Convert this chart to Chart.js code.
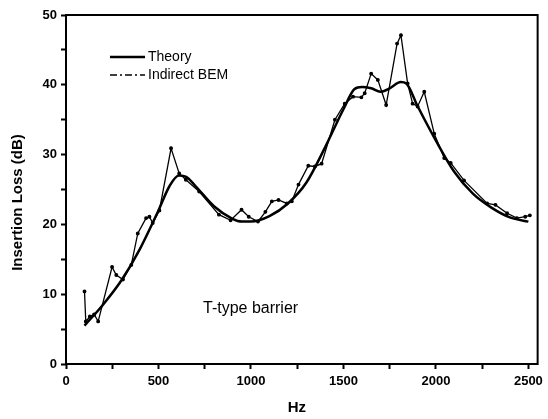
<!DOCTYPE html>
<html>
<head>
<meta charset="utf-8">
<script src="https://cdn.jsdelivr.net/npm/chart.js@4"></script>
<style>
  html, body { margin: 0; padding: 0; background: #fff; }
  #wrap { width: 548px; height: 419px; }
</style>
</head>
<body>
<div id="wrap"><canvas id="c"></canvas></div>
<script>
// Theory curve (Hz, dB)
const theoryHz = [100, 200, 300, 400, 500, 560, 610, 650, 700, 800, 900, 950, 1000, 1100, 1200, 1300, 1400, 1500, 1560, 1600, 1650, 1700, 1750, 1810, 1840, 1900, 2000, 2100, 2200, 2300, 2400, 2500]
const theoryDb = [5.5, 8.5, 12, 16.5, 22, 25.5, 27, 26.8, 25.5, 22.6, 20.8, 20.4, 20.4, 21.2, 23, 26, 31, 36.5, 39.4, 39.7, 39.5, 39.0, 39.5, 40.4, 40.2, 37, 32, 27.5, 24.4, 22.4, 21, 20.4]

// Indirect BEM (Hz, dB)
const bemHz = [100, 107, 129, 152, 174, 249, 272, 308, 353, 388, 433, 451, 469, 505, 568, 612, 648, 720, 827, 890, 949, 988, 1038, 1078, 1113, 1149, 1194, 1221, 1257, 1310, 1346, 1382, 1454, 1507, 1552, 1597, 1615, 1650, 1686, 1731, 1790, 1811, 1847, 1874, 1901, 1937, 1991, 2045, 2080, 2152, 2277, 2322, 2385, 2438, 2483, 2508]
const bemDb = [10.4, 6.1, 6.8, 7.1, 6.1, 13.9, 12.75, 12.1, 14.2, 18.7, 20.9, 21.1, 20.2, 22, 30.9, 27.3, 26.4, 24.7, 21.4, 20.6, 22.1, 21.1, 20.4, 21.8, 23.3, 23.5, 23.0, 23.3, 25.7, 28.4, 28.3, 28.7, 35.0, 37.3, 38.3, 38.2, 38.8, 41.6, 40.7, 37.1, 45.9, 47.1, 40.2, 37.3, 36.9, 39.0, 33.0, 29.5, 28.8, 26.3, 23.0, 22.8, 21.6, 20.9, 21.1, 21.3]

// tick positions (labels only on the major ones)
const xTicks = [0, 250, 500, 750, 1000, 1250, 1500, 1750, 2000, 2250, 2500]
const xLabels = [0, 500, 1000, 1500, 2000, 2500]
const yTicks = [0, 5, 10, 15, 20, 25, 30, 35, 40, 45, 50]
const yLabels = [0, 10, 20, 30, 40, 50]

const seriesNames = ["Theory", "Indirect BEM"]
const noteText = "T-type barrier"
const xTitle = "Hz"
const yTitle = "Insertion Loss (dB)"

const FONT = "'Liberation Sans', Arial, sans-serif"

const toPoints = (xs, ys) => xs.map((x, i) => ({ x, y: ys[i] }))

// frame, axis titles, legend and the note inside the plot
const decorations = {
  id: "decorations",
  afterDraw(chart) {
    const { ctx, chartArea: a } = chart
    ctx.save()
    ctx.strokeStyle = "#000"
    ctx.fillStyle = "#000"
    ctx.lineWidth = 2
    ctx.strokeRect(a.left, a.top, a.right - a.left, a.bottom - a.top)

    // axis titles
    ctx.textAlign = "center"
    ctx.textBaseline = "middle"
    ctx.font = "bold 15px " + FONT
    ctx.fillText(xTitle, (a.left + a.right) / 2 - 5, a.bottom + 44)
    ctx.save()
    ctx.translate(18, (a.top + a.bottom) / 2 + 13)
    ctx.rotate(-Math.PI / 2)
    ctx.font = "bold 15px " + FONT
    ctx.fillText(yTitle, 0, 0)
    ctx.restore()

    // legend
    ctx.textAlign = "left"
    const lx = a.left + 44
    const ly = a.top + 42
    ctx.font = "14px " + FONT

    ctx.lineWidth = 2.5
    ctx.beginPath()
    ctx.moveTo(lx, ly)
    ctx.lineTo(lx + 35, ly)
    ctx.stroke()
    ctx.fillText(seriesNames[0], lx + 38, ly)

    ctx.lineWidth = 1.5
    ctx.setLineDash([7, 3, 2, 3])
    ctx.beginPath()
    ctx.moveTo(lx, ly + 18)
    ctx.lineTo(lx + 35, ly + 18)
    ctx.stroke()
    ctx.setLineDash([])
    ctx.fillText(seriesNames[1], lx + 38, ly + 18)

    ctx.font = "16px " + FONT
    ctx.fillText(noteText, a.left + 137, a.top + 294)
    ctx.restore()
  }
}

new Chart(document.getElementById("c"), {
  type: "scatter",
  data: {
    datasets: [
      {
        label: seriesNames[0],
        data: toPoints(theoryHz, theoryDb),
        showLine: true,
        borderColor: "#000",
        borderWidth: 2.5,
        pointRadius: 0,
        cubicInterpolationMode: "monotone",
      },
      {
        label: seriesNames[1],
        data: toPoints(bemHz, bemDb),
        showLine: true,
        borderColor: "#000",
        backgroundColor: "#000",
        borderWidth: 1.3,
        pointRadius: 1.3,
        tension: 0,
      }
    ]
  },
  options: {
    responsive: true,
    maintainAspectRatio: false,
    animation: false,
    layout: { padding: { top: 15, right: 8, left: 0, bottom: 0 } },
    plugins: {
      legend: { display: false },
      tooltip: { enabled: false }
    },
    scales: {
      x: {
        type: "linear",
        min: 0,
        max: 2550,
        afterFit: (s) => { s.height = 55 },
        afterBuildTicks: (s) => { s.ticks = xTicks.map(v => ({ value: v })) },
        ticks: {
          autoSkip: false,
          maxRotation: 0,
          padding: 5,
          color: "#000",
          font: { family: FONT, size: 13, weight: "bold" },
          callback: (v) => (xLabels.includes(v) ? String(v) : "")
        },
        grid: {
          drawOnChartArea: false,
          tickLength: 5,
          tickWidth: 2,
          tickColor: "#000"
        },
        border: { display: false }
      },
      y: {
        min: 0,
        max: 50,
        afterFit: (s) => { s.width = 66 },
        afterBuildTicks: (s) => { s.ticks = yTicks.map(v => ({ value: v })) },
        ticks: {
          autoSkip: false,
          padding: 4,
          color: "#000",
          font: { family: FONT, size: 13, weight: "bold" },
          callback: (v) => (yLabels.includes(v) ? String(v) : "")
        },
        grid: {
          drawOnChartArea: false,
          tickLength: 5,
          tickWidth: 2,
          tickColor: "#000"
        },
        border: { display: false }
      }
    }
  },
  plugins: [decorations]
})
</script>
</body>
</html>
